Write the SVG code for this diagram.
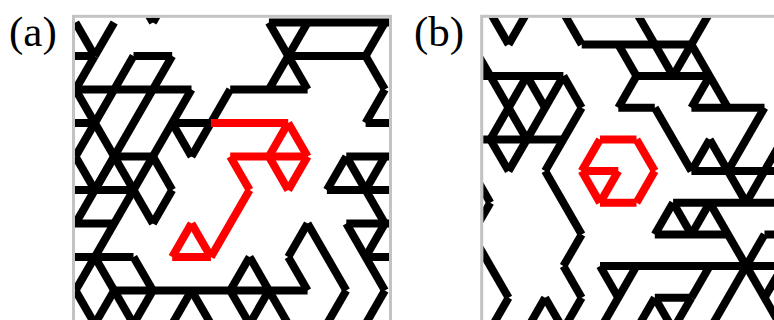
<svg xmlns="http://www.w3.org/2000/svg" width="774" height="320" viewBox="0 0 774 320">
<style>
.k{stroke:#000;stroke-width:8;stroke-linecap:butt;fill:none}
.r{stroke:#f00;stroke-width:8;stroke-linecap:butt;fill:none}
.frame{fill:none;stroke:#c3c3c3;stroke-width:3}
.lab{font-family:"Liberation Serif","Times New Roman",serif;font-size:43px;fill:#000}
</style>
<defs>
<clipPath id="ca"><rect x="75" y="17.8" width="314" height="310"/></clipPath>
<clipPath id="cb"><rect x="483.2" y="17.8" width="300" height="310"/></clipPath>
</defs>
<rect width="774" height="320" fill="#fff"/>
<g id="label-a"><text class="lab" x="9" y="46">(a)</text></g>
<g id="label-b"><text class="lab" x="414" y="46">(b)</text></g>
<g id="panel-a" clip-path="url(#ca)">
<g id="a-black" class="k">
<line x1="75.5" y1="22.5" x2="94.8" y2="56"/>
<line x1="114.2" y1="22.5" x2="94.8" y2="56"/>
<line x1="94.8" y1="56" x2="75.5" y2="89.5"/>
<line x1="56.2" y1="56" x2="94.8" y2="56"/>
<line x1="133.5" y1="-11" x2="152.9" y2="22.5"/>
<line x1="172.2" y1="-11" x2="152.9" y2="22.5"/>
<line x1="133.5" y1="56" x2="172.2" y2="56"/>
<line x1="133.5" y1="56" x2="114.2" y2="89.5"/>
<line x1="172.2" y1="56" x2="75.5" y2="223.5"/>
<line x1="60" y1="89.5" x2="191.5" y2="89.5"/>
<line x1="230.2" y1="89.5" x2="307.6" y2="89.5"/>
<line x1="191.5" y1="89.5" x2="75.5" y2="290.5"/>
<line x1="172.2" y1="123" x2="210.9" y2="123"/>
<line x1="172.2" y1="123" x2="191.5" y2="156.5"/>
<line x1="230.2" y1="89.5" x2="191.5" y2="156.5"/>
<line x1="268.9" y1="22.5" x2="423.6" y2="22.5"/>
<line x1="268.9" y1="22.5" x2="307.6" y2="89.5"/>
<line x1="307.6" y1="22.5" x2="268.9" y2="89.5"/>
<line x1="288.2" y1="56" x2="365.6" y2="56"/>
<line x1="365.6" y1="56" x2="384.9" y2="22.5"/>
<line x1="365.6" y1="56" x2="384.9" y2="89.5"/>
<line x1="384.9" y1="89.5" x2="365.6" y2="123"/>
<line x1="365.6" y1="123" x2="404.3" y2="123"/>
<line x1="75.5" y1="89.5" x2="114.2" y2="156.5"/>
<line x1="114.2" y1="89.5" x2="75.5" y2="156.5"/>
<line x1="56.2" y1="123" x2="94.8" y2="123"/>
<line x1="114.2" y1="156.5" x2="152.9" y2="156.5"/>
<line x1="94.8" y1="190" x2="114.2" y2="156.5"/>
<line x1="114.2" y1="156.5" x2="152.9" y2="223.5"/>
<line x1="152.9" y1="156.5" x2="172.2" y2="190"/>
<line x1="172.2" y1="190" x2="152.9" y2="223.5"/>
<line x1="75.5" y1="156.5" x2="94.8" y2="190"/>
<line x1="56.2" y1="190" x2="133.5" y2="190"/>
<line x1="60" y1="223.5" x2="114.2" y2="223.5"/>
<line x1="56.2" y1="257" x2="133.5" y2="257"/>
<line x1="133.5" y1="257" x2="152.9" y2="290.5"/>
<line x1="94.8" y1="257" x2="114.2" y2="290.5"/>
<line x1="75.5" y1="290.5" x2="94.8" y2="324"/>
<line x1="114.2" y1="290.5" x2="94.8" y2="324"/>
<line x1="114.2" y1="290.5" x2="307.6" y2="290.5"/>
<line x1="114.2" y1="290.5" x2="133.5" y2="324"/>
<line x1="152.9" y1="290.5" x2="133.5" y2="324"/>
<line x1="191.5" y1="290.5" x2="172.2" y2="324"/>
<line x1="191.5" y1="290.5" x2="210.9" y2="324"/>
<line x1="230.2" y1="290.5" x2="249.6" y2="257"/>
<line x1="249.6" y1="257" x2="268.9" y2="290.5"/>
<line x1="230.2" y1="290.5" x2="249.6" y2="324"/>
<line x1="268.9" y1="290.5" x2="249.6" y2="324"/>
<line x1="268.9" y1="290.5" x2="288.2" y2="324"/>
<line x1="307.6" y1="223.5" x2="288.2" y2="257"/>
<line x1="288.2" y1="257" x2="307.6" y2="290.5"/>
<line x1="307.6" y1="223.5" x2="346.3" y2="290.5"/>
<line x1="346.3" y1="290.5" x2="326.9" y2="324"/>
<line x1="346.3" y1="156.5" x2="423.6" y2="156.5"/>
<line x1="346.3" y1="156.5" x2="326.9" y2="190"/>
<line x1="346.3" y1="156.5" x2="365.6" y2="190"/>
<line x1="365.6" y1="190" x2="384.9" y2="156.5"/>
<line x1="326.9" y1="190" x2="404.3" y2="190"/>
<line x1="365.6" y1="190" x2="384.9" y2="223.5"/>
<line x1="346.3" y1="223.5" x2="423.6" y2="223.5"/>
<line x1="346.3" y1="223.5" x2="384.9" y2="290.5"/>
<line x1="384.9" y1="223.5" x2="365.6" y2="257"/>
<line x1="365.6" y1="257" x2="404.3" y2="257"/>
<line x1="384.9" y1="290.5" x2="365.6" y2="324"/>
</g>
<g id="a-red" class="r">
<line x1="210.9" y1="123" x2="288.2" y2="123"/>
<line x1="288.2" y1="123" x2="307.6" y2="156.5"/>
<line x1="288.2" y1="123" x2="268.9" y2="156.5"/>
<line x1="230.2" y1="156.5" x2="307.6" y2="156.5"/>
<line x1="268.9" y1="156.5" x2="288.2" y2="190"/>
<line x1="288.2" y1="190" x2="307.6" y2="156.5"/>
<line x1="230.2" y1="156.5" x2="249.6" y2="190"/>
<line x1="249.6" y1="190" x2="210.9" y2="257"/>
<line x1="210.9" y1="257" x2="172.2" y2="257"/>
<line x1="172.2" y1="257" x2="191.5" y2="223.5"/>
<line x1="191.5" y1="223.5" x2="210.9" y2="257"/>
</g>
</g>
<rect id="frame-a" class="frame" x="73.5" y="16.3" width="317" height="320"/>
<g id="panel-b" clip-path="url(#cb)">
<g id="b-black" class="k">
<line x1="490.3" y1="12.7" x2="508.6" y2="44.4"/>
<line x1="508.6" y1="44.4" x2="526.9" y2="12.7"/>
<line x1="563.4" y1="12.7" x2="581.7" y2="44.4"/>
<line x1="581.7" y1="44.4" x2="691.4" y2="44.4"/>
<line x1="636.5" y1="12.7" x2="673.1" y2="76"/>
<line x1="709.7" y1="12.7" x2="673.1" y2="76"/>
<line x1="618.3" y1="44.4" x2="636.5" y2="76"/>
<line x1="636.5" y1="76" x2="618.3" y2="107.7"/>
<line x1="636.5" y1="76" x2="709.7" y2="76"/>
<line x1="691.4" y1="44.4" x2="727.9" y2="107.7"/>
<line x1="709.7" y1="76" x2="691.4" y2="107.7"/>
<line x1="691.4" y1="107.7" x2="764.5" y2="107.7"/>
<line x1="764.5" y1="107.7" x2="727.9" y2="171"/>
<line x1="618.3" y1="107.7" x2="654.8" y2="107.7"/>
<line x1="654.8" y1="107.7" x2="691.4" y2="171"/>
<line x1="691.4" y1="171" x2="709.7" y2="139.4"/>
<line x1="709.7" y1="139.4" x2="727.9" y2="171"/>
<line x1="764.5" y1="171" x2="782.8" y2="139.4"/>
<line x1="472" y1="44.4" x2="490.3" y2="76"/>
<line x1="480" y1="76" x2="563.4" y2="76"/>
<line x1="490.3" y1="76" x2="526.9" y2="139.4"/>
<line x1="526.9" y1="76" x2="490.3" y2="139.4"/>
<line x1="526.9" y1="76" x2="545.1" y2="107.7"/>
<line x1="563.4" y1="76" x2="526.9" y2="139.4"/>
<line x1="563.4" y1="76" x2="581.7" y2="107.7"/>
<line x1="581.7" y1="107.7" x2="545.1" y2="171"/>
<line x1="480" y1="139.4" x2="563.4" y2="139.4"/>
<line x1="490.3" y1="139.4" x2="508.6" y2="171"/>
<line x1="526.9" y1="139.4" x2="508.6" y2="171"/>
<line x1="472" y1="171" x2="490.3" y2="202.7"/>
<line x1="490.3" y1="202.7" x2="472" y2="234.4"/>
<line x1="545.1" y1="171" x2="581.7" y2="234.4"/>
<line x1="581.7" y1="234.4" x2="563.4" y2="266.1"/>
<line x1="563.4" y1="266.1" x2="581.7" y2="297.7"/>
<line x1="581.7" y1="297.7" x2="563.4" y2="329.4"/>
<line x1="472" y1="234.4" x2="508.6" y2="297.7"/>
<line x1="508.6" y1="297.7" x2="490.3" y2="329.4"/>
<line x1="526.9" y1="329.4" x2="545.1" y2="297.7"/>
<line x1="545.1" y1="297.7" x2="563.4" y2="329.4"/>
<line x1="600" y1="266.1" x2="801" y2="266.1"/>
<line x1="600" y1="266.1" x2="618.3" y2="297.7"/>
<line x1="636.5" y1="266.1" x2="600" y2="329.4"/>
<line x1="654.8" y1="297.7" x2="691.4" y2="297.7"/>
<line x1="654.8" y1="297.7" x2="636.5" y2="329.4"/>
<line x1="654.8" y1="297.7" x2="673.1" y2="329.4"/>
<line x1="691.4" y1="297.7" x2="673.1" y2="329.4"/>
<line x1="691.4" y1="297.7" x2="709.7" y2="266.1"/>
<line x1="691.4" y1="171" x2="801" y2="171"/>
<line x1="727.9" y1="171" x2="746.2" y2="202.7"/>
<line x1="764.5" y1="171" x2="746.2" y2="202.7"/>
<line x1="673.1" y1="202.7" x2="801" y2="202.7"/>
<line x1="673.1" y1="202.7" x2="654.8" y2="234.4"/>
<line x1="673.1" y1="202.7" x2="691.4" y2="234.4"/>
<line x1="709.7" y1="202.7" x2="691.4" y2="234.4"/>
<line x1="709.7" y1="202.7" x2="782.8" y2="329.4"/>
<line x1="654.8" y1="234.4" x2="727.9" y2="234.4"/>
<line x1="764.5" y1="234.4" x2="801" y2="234.4"/>
<line x1="764.5" y1="234.4" x2="709.7" y2="329.4"/>
<line x1="782.8" y1="266.1" x2="764.5" y2="297.7"/>
</g>
<g id="b-red" class="r">
<line x1="600" y1="139.4" x2="636.5" y2="139.4"/>
<line x1="636.5" y1="139.4" x2="654.8" y2="171"/>
<line x1="654.8" y1="171" x2="636.5" y2="202.7"/>
<line x1="636.5" y1="202.7" x2="600" y2="202.7"/>
<line x1="600" y1="202.7" x2="581.7" y2="171"/>
<line x1="581.7" y1="171" x2="600" y2="139.4"/>
<line x1="581.7" y1="171" x2="618.3" y2="171"/>
<line x1="618.3" y1="171" x2="600" y2="202.7"/>
</g>
</g>
<rect id="frame-b" class="frame" x="481.7" y="16.3" width="400" height="320"/>
</svg>
